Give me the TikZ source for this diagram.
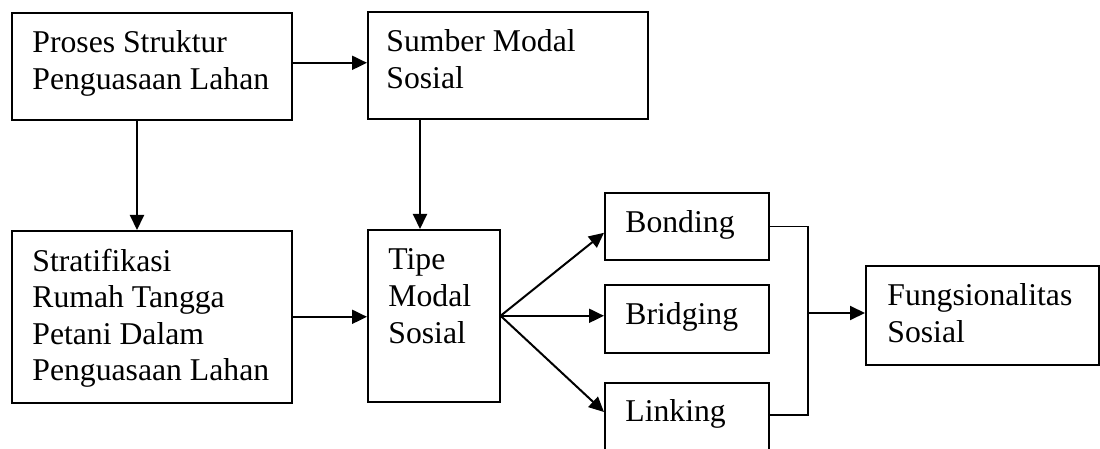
\documentclass[tikz,border=0pt]{standalone}
\usepackage{fontspec}
\setmainfont{Liberation Serif}
\usetikzlibrary{calc,arrows.meta}
\begin{document}
\begin{tikzpicture}[x=0.5pt,y=-0.5pt,
  box/.style={draw, line width=0.8pt, inner sep=0pt, anchor=north west},
  txt/.style={inner sep=0pt, anchor=base west,
    font=\fontsize{15.85pt}{18.3pt}\selectfont},
  arr/.style={line width=1pt, -{Triangle[length=7.5pt,width=7pt]}},
  joint/.style={line width=0.6pt}]
\useasboundingbox (0,0) rectangle (1100,449);
\clip (0,0) rectangle (1100,449);

% boxes
\node[box, minimum width=140pt, minimum height=53.5pt] (proses) at (11,12) {};
\node[box, minimum width=140pt, minimum height=53.5pt] (sumber) at (367,11) {};
\node[box, minimum width=140pt, minimum height=86pt] (strat) at (11,230) {};
\node[box, minimum width=66pt, minimum height=86pt] (tipe) at (367,229) {};
\node[box, minimum width=82pt, minimum height=33.5pt] (bond) at (604,192) {};
\node[box, minimum width=82pt, minimum height=34pt] (brid) at (604,284) {};
\node[box, minimum width=82pt, minimum height=34pt] (link) at (604,382) {};
\node[box, minimum width=116.5pt, minimum height=49.5pt] (fungsi) at (865,265) {};

% texts
\node[txt] (tproses) at ($(proses.north west)+(21,41)$)
  {\parbox[t]{150pt}{Proses Struktur\\Penguasaan Lahan}};
\node[txt] (tsumber) at ($(sumber.north west)+(19,41)$)
  {\parbox[t]{150pt}{Sumber Modal\\Sosial}};
\node[txt] (tstrat) at ($(strat.north west)+(21,41)$)
  {\parbox[t]{150pt}{Stratifikasi\\Rumah Tangga\\Petani Dalam\\Penguasaan Lahan}};
\node[txt] (ttipe) at ($(tipe.north west)+(21,41)$)
  {\parbox[t]{60pt}{Tipe\\Modal\\Sosial}};
\node[txt] (tbond) at ($(bond.north west)+(21,41)$) {Bonding};
\node[txt] (tbrid) at ($(brid.north west)+(21,41)$) {Bridging};
\node[txt] (tlink) at ($(link.north west)+(21,40)$) {Linking};
\node[txt] (tfungsi) at ($(fungsi.north west)+(22,41)$)
  {\parbox[t]{110pt}{Fungsionalitas\\Sosial}};

% connectors
\coordinate (p1) at ($(proses.east)+(0,-3.5)$);
\draw[arr] (p1) -- (p1 -| sumber.west);
\coordinate (p2) at ($(proses.south west)+(126,0)$);
\draw[arr] (p2) -- (p2 |- strat.north);
\coordinate (p3) at ($(sumber.south west)+(53,0)$);
\draw[arr] (p3) -- (p3 |- tipe.north);
\draw[arr] (strat.east) -- (strat.east -| tipe.west);

\draw[arr] (tipe.east) -- ($(bond.west)+(0,6.5)$);
\draw[arr] (tipe.east) -- (tipe.east -| brid.west);
\draw[arr] (tipe.east) -- ($(link.north west)+(0,30)$);

\coordinate (bk) at (808,313);
\coordinate (lk) at ($(link.north east)+(0,33)$);
\draw[joint] (bond.east) -- (bond.east -| bk) -- (lk -| bk) -- (lk);
\draw[arr] (bk) -- (bk -| fungsi.west);
\end{tikzpicture}
\end{document}
